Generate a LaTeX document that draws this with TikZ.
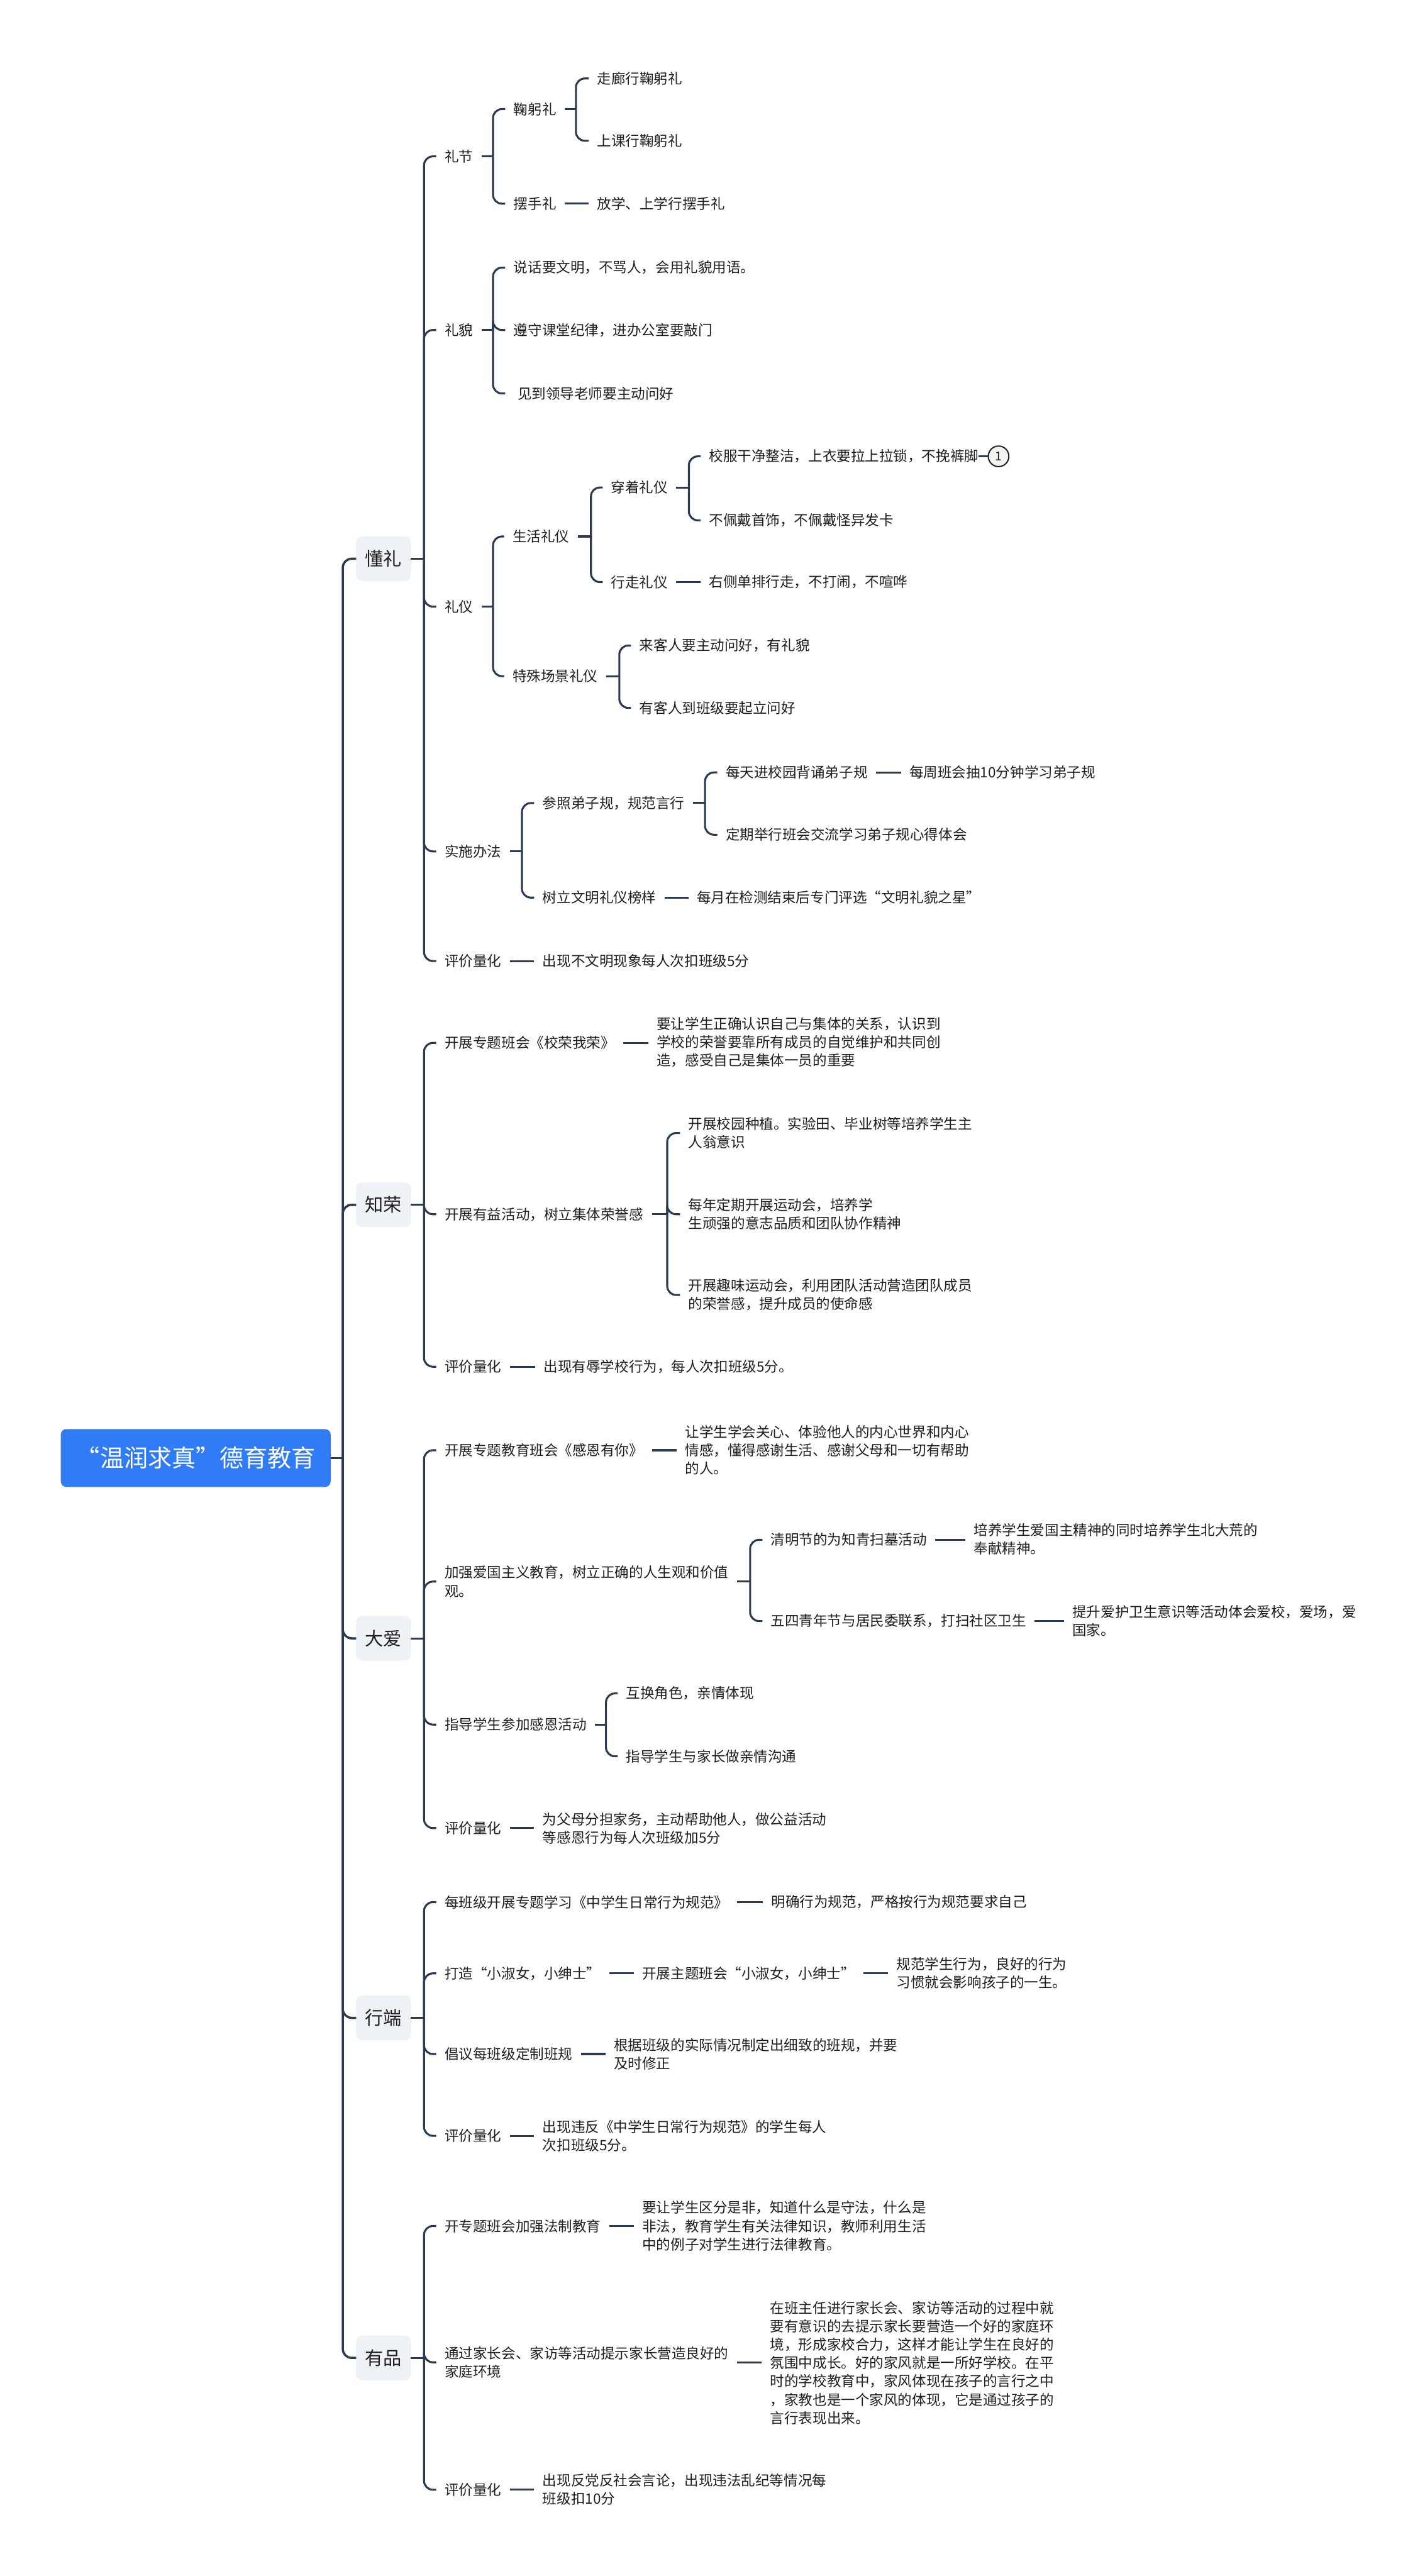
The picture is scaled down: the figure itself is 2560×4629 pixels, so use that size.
\documentclass[tikz,border=0pt]{standalone}
\usepackage{fontspec}
\setmainfont{Noto Sans CJK SC}
\usetikzlibrary{positioning}
\definecolor{linkc}{HTML}{2B3A50}
\definecolor{lvone}{HTML}{EEF1F5}
\definecolor{rootc}{HTML}{2F7CF6}
\definecolor{txtc}{HTML}{1E1E1E}
\definecolor{circf}{HTML}{F2F2F2}
\newcommand{\mmfork}[3]{%
  \coordinate (#1-j) at (#2,0|-#1.east);
  \draw[link] (#1.east) -- (#1-j);
  \foreach \ch in {#3} {\draw[link] (#1-j) |- (\ch.west);}%
}
\newcommand{\mmline}[2]{\draw[link] (#1.east) -- (#1.east -| #2.west);}
\begin{document}
\begin{tikzpicture}[x=1pt,y=-1pt,
  link/.style={draw=linkc, line width=3.5pt, rounded corners=16pt},
  mainlink/.style={link, line width=4pt},
  txt/.style={anchor=west, inner xsep=15pt, inner ysep=5pt, font=\fontsize{25.5}{33}\selectfont, text=txtc, align=left},
  lvl/.style={anchor=west, fill=lvone, rounded corners=10pt, minimum width=98pt, minimum height=80pt, font=\fontsize{33}{40}\selectfont, text=txtc, inner sep=0pt},
  rootn/.style={anchor=west, fill=rootc, rounded corners=10pt, minimum width=485pt, minimum height=104pt, font=\fontsize{43}{50}\selectfont, text=white, inner sep=0pt},
  circ/.style={circle, draw=txtc, line width=2.2pt, fill=circf, minimum size=37pt, inner sep=0pt, font=\fontsize{22}{26}\selectfont, text=txtc}]
\fill[white] (0,0) rectangle (2560,4629);
\useasboundingbox (0,0) rectangle (2560,4629);

% root and level 1
\node[rootn] (root) at (109,2620) {“温润求真”德育教育};
\node[lvl] (A) at (640,1004) {懂礼};
\node[lvl] (B) at (640,2165) {知荣};
\node[lvl] (C) at (640,2944) {大爱};
\node[lvl] (D) at (640,3626) {行端};
\node[lvl] (E) at (640,4237) {有品};

% ---- 懂礼
\node[txt] (a1) at (784,281) {礼节};
\node[txt] (a2) at (784,593) {礼貌};
\node[txt] (a3) at (784,1090) {礼仪};
\node[txt] (a4) at (784,1530) {实施办法};
\node[txt] (a5) at (784,1727) {评价量化};

\node[txt] (a11) at (908,196) {鞠躬礼};
\node[txt] (a12) at (908,366) {摆手礼};
\node[txt] (a111) at (1058,141) {走廊行鞠躬礼};
\node[txt] (a112) at (1058,253) {上课行鞠躬礼};
\node[txt] (a121) at (1058,366) {放学、上学行摆手礼};

\node[txt] (a21) at (908,481) {说话要文明，不骂人，会用礼貌用语。};
\node[txt] (a22) at (908,593) {遵守课堂纪律，进办公室要敲门};
\node[txt] (a23) at (908,707) {\hspace*{7pt}见到领导老师要主动问好};

\node[txt] (a31) at (906,964) {生活礼仪};
\node[txt] (a32) at (906,1215) {特殊场景礼仪};
\node[txt] (a311) at (1083,876) {穿着礼仪};
\node[txt] (a312) at (1083,1046) {行走礼仪};
\node[txt] (a3111) at (1259,820) {校服干净整洁，上衣要拉上拉锁，不挽裤脚};
\node[circ, right=1pt of a3111] (n1) {1};
\node[txt] (a3112) at (1259,935) {不佩戴首饰，不佩戴怪异发卡};
\node[txt] (a3121) at (1259,1046) {右侧单排行走，不打闹，不喧哗};
\node[txt] (a321) at (1134,1160) {来客人要主动问好，有礼貌};
\node[txt] (a322) at (1134,1272) {有客人到班级要起立问好};

\node[txt] (a41) at (960,1443) {参照弟子规，规范言行};
\node[txt] (a42) at (960,1613) {树立文明礼仪榜样};
\node[txt] (a411) at (1289,1388) {每天进校园背诵弟子规};
\node[txt] (a412) at (1289,1500) {定期举行班会交流学习弟子规心得体会};
\node[txt] (a4111) at (1619,1388) {每周班会抽10分钟学习弟子规};
\node[txt] (a421) at (1237,1613) {每月在检测结束后专门评选“文明礼貌之星”};
\node[txt] (a51) at (960,1727) {出现不文明现象每人次扣班级5分};

% ---- 知荣
\node[txt] (b1) at (784,1874) {开展专题班会《校荣我荣》};
\node[txt] (b2) at (784,2182) {开展有益活动，树立集体荣誉感};
\node[txt] (b3) at (784,2456) {评价量化};
\node[txt] (b11) at (1165,1873) {要让学生正确认识自己与集体的关系，认识到\\学校的荣誉要靠所有成员的自觉维护和共同创\\造，感受自己是集体一员的重要};
\node[txt] (b21) at (1222,2036) {开展校园种植。实验田、毕业树等培养学生主\\人翁意识};
\node[txt] (b22) at (1222,2182) {每年定期开展运动会，培养学\\生顽强的意志品质和团队协作精神};
\node[txt] (b23) at (1222,2327) {开展趣味运动会，利用团队活动营造团队成员\\的荣誉感，提升成员的使命感};
\node[txt] (b31) at (962,2456) {出现有辱学校行为，每人次扣班级5分。};

% ---- 大爱
\node[txt] (c1) at (784,2606) {开展专题教育班会《感恩有你》};
\node[txt] (c11) at (1216,2606) {让学生学会关心、体验他人的内心世界和内心\\情感，懂得感谢生活、感谢父母和一切有帮助\\的人。};
\node[txt] (c2) at (784,2842) {加强爱国主义教育，树立正确的人生观和价值\\观。};
\node[txt] (c21) at (1370,2767) {清明节的为知青扫墓活动};
\node[txt] (c211) at (1735,2766) {培养学生爱国主精神的同时培养学生北大荒的\\奉献精神。};
\node[txt] (c22) at (1370,2913) {五四青年节与居民委联系，打扫社区卫生};
\node[txt] (c221) at (1912,2913) {提升爱护卫生意识等活动体会爱校，爱场，爱\\国家。};
\node[txt] (c3) at (784,3099) {指导学生参加感恩活动};
\node[txt] (c31) at (1110,3043) {互换角色，亲情体现};
\node[txt] (c32) at (1110,3156) {指导学生与家长做亲情沟通};
\node[txt] (c4) at (784,3285) {评价量化};
\node[txt] (c41) at (960,3286) {为父母分担家务，主动帮助他人，做公益活动\\等感恩行为每人次班级加5分};

% ---- 行端
\node[txt] (d1) at (784,3418) {每班级开展专题学习《中学生日常行为规范》};
\node[txt] (d11) at (1371,3418) {明确行为规范，严格按行为规范要求自己};
\node[txt] (d2) at (784,3546) {打造“小淑女，小绅士”};
\node[txt] (d21) at (1139,3546) {开展主题班会“小淑女，小绅士”};
\node[txt] (d211) at (1596,3546) {规范学生行为，良好的行为\\习惯就会影响孩子的一生。};
\node[txt] (d3) at (784,3691) {倡议每班级定制班规};
\node[txt] (d31) at (1088,3691) {根据班级的实际情况制定出细致的班规，并要\\及时修正};
\node[txt] (d4) at (784,3838) {评价量化};
\node[txt] (d41) at (960,3838) {出现违反《中学生日常行为规范》的学生每人\\次扣班级5分。};

% ---- 有品
\node[txt] (e1) at (784,4000) {开专题班会加强法制教育};
\node[txt] (e11) at (1139,4000) {要让学生区分是非，知道什么是守法，什么是\\非法，教育学生有关法律知识，教师利用生活\\中的例子对学生进行法律教育。};
\node[txt] (e2) at (784,4245) {通过家长会、家访等活动提示家长营造良好的\\家庭环境};
\node[txt] (e21) at (1369,4246) {在班主任进行家长会、家访等活动的过程中就\\要有意识的去提示家长要营造一个好的家庭环\\境，形成家校合力，这样才能让学生在良好的\\氛围中成长。好的家风就是一所好学校。在平\\时的学校教育中，家风体现在孩子的言行之中\\，家教也是一个家风的体现，它是通过孩子的\\言行表现出来。};
\node[txt] (e3) at (784,4474) {评价量化};
\node[txt] (e31) at (960,4473) {出现反党反社会言论，出现违法乱纪等情况每\\班级扣10分};

% ---- connectors
\coordinate (root-j) at (616,0|-root.east);
\draw[mainlink] (root.east) -- (root-j);
\foreach \ch in {A,B,C,D,E} {\draw[mainlink] (root-j) |- (\ch.west);}

\mmfork{A}{762}{a1,a2,a3,a4,a5}
\mmfork{a1}{886}{a11,a12}
\mmfork{a11}{1035}{a111,a112}
\mmline{a12}{a121}
\mmfork{a2}{886}{a21,a22,a23}
\mmfork{a3}{886}{a31,a32}
\mmfork{a31}{1062}{a311,a312}
\mmfork{a311}{1238}{a3111,a3112}
\mmline{a312}{a3121}
\mmfork{a32}{1113}{a321,a322}
\mmfork{a4}{938}{a41,a42}
\mmfork{a41}{1267}{a411,a412}
\mmline{a411}{a4111}
\mmline{a42}{a421}
\mmline{a5}{a51}
\draw[link] ([xshift=-15pt]a3111.east) -- (n1.west);

\mmfork{B}{762}{b1,b2,b3}
\mmline{b1}{b11}
\mmfork{b2}{1199}{b21,b22,b23}
\mmline{b3}{b31}

\mmfork{C}{762}{c1,c2,c3,c4}
\mmline{c1}{c11}
\mmfork{c2}{1348}{c21,c22}
\mmline{c21}{c211}
\mmline{c22}{c221}
\mmfork{c3}{1089}{c31,c32}
\mmline{c4}{c41}

\mmfork{D}{762}{d1,d2,d3,d4}
\mmline{d1}{d11}
\mmline{d2}{d21}
\mmline{d21}{d211}
\mmline{d3}{d31}
\mmline{d4}{d41}

\mmfork{E}{762}{e1,e2,e3}
\mmline{e1}{e11}
\mmline{e2}{e21}
\mmline{e3}{e31}
\end{tikzpicture}
\end{document}
